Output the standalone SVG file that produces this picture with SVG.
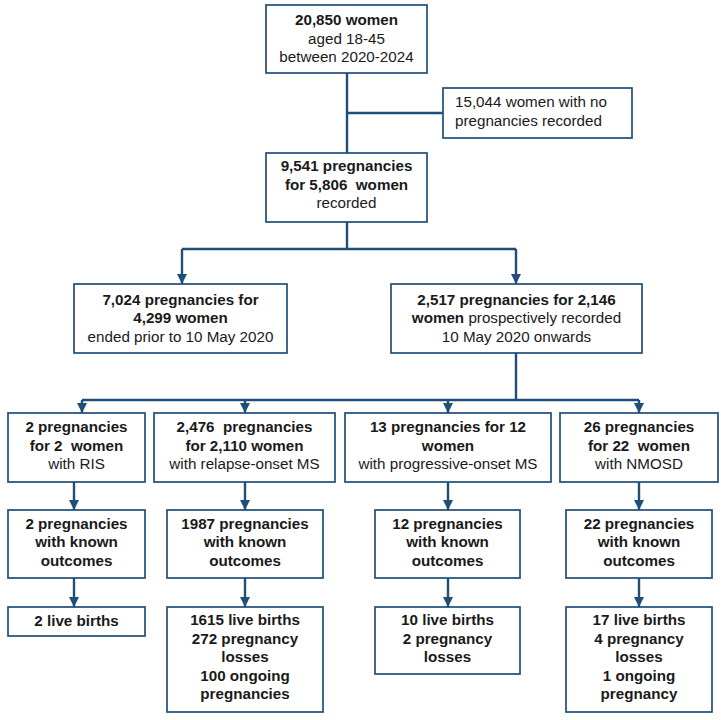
<svg xmlns="http://www.w3.org/2000/svg" width="721" height="720" viewBox="0 0 721 720">
<style>
.box{fill:#ffffff;stroke:#1f4e79;stroke-width:1.7}
.t{font-family:"Liberation Sans",Arial,sans-serif;font-size:15.2px;fill:#1a1a1a;text-anchor:middle;white-space:pre}
.l{text-anchor:start}
.b{font-weight:bold}
.c{fill:none;stroke:#1f4e79;stroke-width:2.4}
</style>
<defs>
<marker id="ah" markerUnits="userSpaceOnUse" markerWidth="10" markerHeight="10" refX="10" refY="5" orient="auto">
<path d="M0,0 L10,5 L0,10 z" fill="#1f4e79"/>
</marker>
</defs>
<rect width="721" height="720" fill="#ffffff"/>
<g id="connectors">
<path class="c" d="M347,73 V153"/>
<path class="c" d="M347,113 H443"/>
<path class="c" d="M347,222 V249"/>
<path class="c" d="M182,249 H516"/>
<path class="c" d="M182,249 V284" marker-end="url(#ah)"/>
<path class="c" d="M516,249 V284" marker-end="url(#ah)"/>
<path class="c" d="M516,353 V400"/>
<path class="c" d="M82,400 H639"/>
<path class="c" d="M82,400 V413" marker-end="url(#ah)"/>
<path class="c" d="M245,400 V413" marker-end="url(#ah)"/>
<path class="c" d="M448,400 V413" marker-end="url(#ah)"/>
<path class="c" d="M639,400 V413" marker-end="url(#ah)"/>
<path class="c" d="M74,482 V510" marker-end="url(#ah)"/>
<path class="c" d="M245,482 V510" marker-end="url(#ah)"/>
<path class="c" d="M448,482 V510" marker-end="url(#ah)"/>
<path class="c" d="M639,482 V510" marker-end="url(#ah)"/>
<path class="c" d="M74,578 V607" marker-end="url(#ah)"/>
<path class="c" d="M245,578 V607" marker-end="url(#ah)"/>
<path class="c" d="M448,578 V607" marker-end="url(#ah)"/>
<path class="c" d="M639,578 V607" marker-end="url(#ah)"/>
</g>
<g id="n_total">
<rect class="box" x="266" y="5" width="161" height="68"/>
<text class="t b" x="346.5" y="25">20,850 women</text>
<text class="t" x="346.5" y="44">aged 18-45</text>
<text class="t" x="346.5" y="62">between 2020-2024</text>
</g>
<g id="n_nopreg">
<rect class="box" x="443" y="88" width="189" height="50"/>
<text class="t l" x="455" y="107">15,044 women with no</text>
<text class="t l" x="455" y="126">pregnancies recorded</text>
</g>
<g id="n_recorded">
<rect class="box" x="266" y="153" width="161" height="69"/>
<text class="t b" x="346.5" y="171">9,541 pregnancies</text>
<text class="t b" x="346.5" y="190">for 5,806  women</text>
<text class="t" x="346.5" y="208">recorded</text>
</g>
<g id="n_prior">
<rect class="box" x="74" y="284" width="213" height="69"/>
<text class="t b" x="180.5" y="305">7,024 pregnancies for</text>
<text class="t b" x="180.5" y="323">4,299 women</text>
<text class="t" x="180.5" y="342">ended prior to 10 May 2020</text>
</g>
<g id="n_prosp">
<rect class="box" x="391" y="284" width="251" height="69"/>
<text class="t b" x="516.5" y="305">2,517 pregnancies for 2,146</text>
<text class="t" x="516.5" y="323"><tspan class="b">women</tspan> prospectively recorded</text>
<text class="t" x="516.5" y="342">10 May 2020 onwards</text>
</g>
<g id="n_ris">
<rect class="box" x="8" y="413" width="137" height="69"/>
<text class="t b" x="76.5" y="432">2 pregnancies</text>
<text class="t b" x="76.5" y="451">for 2  women</text>
<text class="t" x="76.5" y="469">with RIS</text>
</g>
<g id="n_rms">
<rect class="box" x="154" y="413" width="181" height="69"/>
<text class="t b" x="244.5" y="432">2,476  pregnancies</text>
<text class="t b" x="244.5" y="451">for 2,110 women</text>
<text class="t" x="244.5" y="469">with relapse-onset MS</text>
</g>
<g id="n_pms">
<rect class="box" x="345" y="413" width="206" height="69"/>
<text class="t b" x="448" y="432">13 pregnancies for 12</text>
<text class="t b" x="448" y="451">women</text>
<text class="t" x="448" y="469">with progressive-onset MS</text>
</g>
<g id="n_nmosd">
<rect class="box" x="560" y="413" width="158" height="69"/>
<text class="t b" x="639" y="432">26 pregnancies</text>
<text class="t b" x="639" y="451">for 22  women</text>
<text class="t" x="639" y="469">with NMOSD</text>
</g>
<g id="n_ris_known">
<rect class="box" x="8" y="510" width="137" height="68"/>
<text class="t b" x="76.5" y="529">2 pregnancies</text>
<text class="t b" x="76.5" y="547">with known</text>
<text class="t b" x="76.5" y="566">outcomes</text>
</g>
<g id="n_rms_known">
<rect class="box" x="167" y="510" width="156" height="68"/>
<text class="t b" x="245" y="529">1987 pregnancies</text>
<text class="t b" x="245" y="547">with known</text>
<text class="t b" x="245" y="566">outcomes</text>
</g>
<g id="n_pms_known">
<rect class="box" x="375" y="510" width="145" height="68"/>
<text class="t b" x="447.5" y="529">12 pregnancies</text>
<text class="t b" x="447.5" y="547">with known</text>
<text class="t b" x="447.5" y="566">outcomes</text>
</g>
<g id="n_nmosd_known">
<rect class="box" x="566" y="510" width="146" height="68"/>
<text class="t b" x="639" y="529">22 pregnancies</text>
<text class="t b" x="639" y="547">with known</text>
<text class="t b" x="639" y="566">outcomes</text>
</g>
<g id="n_ris_out">
<rect class="box" x="8" y="607" width="137" height="29"/>
<text class="t b" x="76.5" y="626">2 live births</text>
</g>
<g id="n_rms_out">
<rect class="box" x="167" y="607" width="156" height="105"/>
<text class="t b" x="245" y="625">1615 live births</text>
<text class="t b" x="245" y="644">272 pregnancy</text>
<text class="t b" x="245" y="662">losses</text>
<text class="t b" x="245" y="681">100 ongoing</text>
<text class="t b" x="245" y="699">pregnancies</text>
</g>
<g id="n_pms_out">
<rect class="box" x="375" y="607" width="145" height="67"/>
<text class="t b" x="447.5" y="625">10 live births</text>
<text class="t b" x="447.5" y="644">2 pregnancy</text>
<text class="t b" x="447.5" y="662">losses</text>
</g>
<g id="n_nmosd_out">
<rect class="box" x="566" y="607" width="146" height="105"/>
<text class="t b" x="639" y="625">17 live births</text>
<text class="t b" x="639" y="644">4 pregnancy</text>
<text class="t b" x="639" y="662">losses</text>
<text class="t b" x="639" y="681">1 ongoing</text>
<text class="t b" x="639" y="699">pregnancy</text>
</g>
</svg>
